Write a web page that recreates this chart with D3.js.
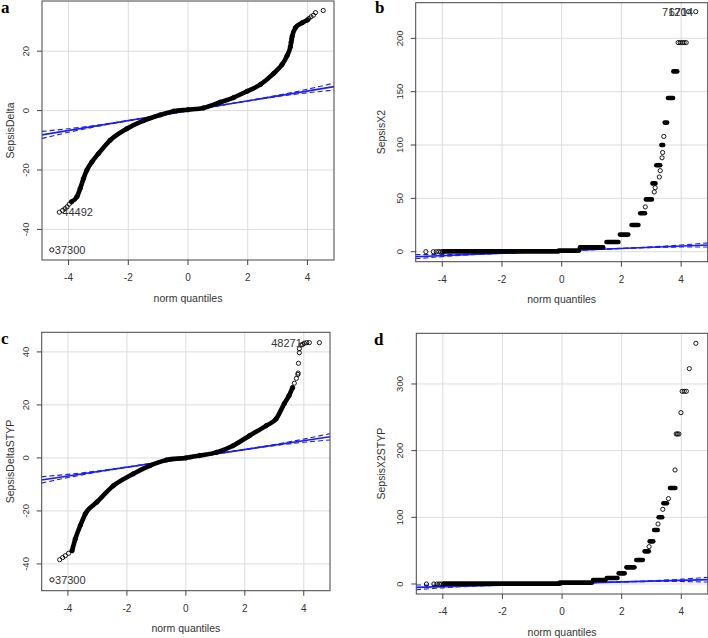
<!DOCTYPE html>
<html>
<head>
<meta charset="utf-8">
<script src="https://cdn.jsdelivr.net/npm/d3@7"></script>
<style>
  body { margin: 0; background: #fff; }
  svg { display: block; font-family: "Liberation Sans", Arial, sans-serif; }
</style>
</head>
<body>
<svg id="chart" width="708" height="638"></svg>
<script>
// ---- data ----
const panelLetters = ["a", "b", "c", "d"];
const yTitles = ["SepsisDelta", "SepsisX2", "SepsisDeltaSTYP", "SepsisX2STYP"];
const xTitle = "norm quantiles";
const xTicks = [-4, -2, 0, 2, 4];
const yTicksA = [-40, -20, 0, 20];
const yTicksB = [0, 50, 100, 150, 200];
const yTicksC = [-40, -20, 0, 20, 40];
const yTicksD = [0, 100, 200, 300];
const xDomain = [-4.89, 4.89];
const yDomainA = [-50.3, 36.9];
const yDomainB = [-9.4, 233.4];
const yDomainC = [-50.1, 47.4];
const yDomainD = [-15, 376];

// a: SepsisDelta (dense band of the Q-Q curve)
const bandQA = [-3.9, -3.72, -3.61, -3.5, -3.39, -3.22, -3.0, -2.61, -2.05, -1.49, -0.93, -0.48, 0, 0.52, 1.08, 1.53, 1.98, 2.43, 2.87, 3.15, 3.32, 3.43, 3.49, 3.6, 3.83, 4.0];
const bandVA = [-30.7, -29.0, -26.2, -22.9, -20.1, -17.3, -14.5, -10.0, -6.1, -3.35, -1.45, -0.2, 0.3, 0.9, 2.8, 4.4, 6.5, 8.8, 12.5, 15.5, 18.5, 21.5, 25.0, 27.9, 29.6, 30.5];
const pointsA = [[-4.56, -46.9], [-4.31, -34.2], [-4.2, -33.6], [-4.12, -33.0], [-4.05, -32.4], [-3.98, -31.5],
  [3.45, 23], [3.47, 24], [4.05, 31.0], [4.12, 31.6], [4.2, 32.1], [4.27, 33.0], [4.53, 33.7]];
const labelsA = [{ q: -4.31, v: -34.2, text: "44492", side: "right" }, { q: -4.56, v: -46.9, text: "37300", side: "right" }];
const refLineA = [[-4.9, -8.2], [4.9, 8.1]];

// b: SepsisX2 (plateaus: start q, end q, value)
const stepQ0B = [-3.95, -0.1, 0.61, 1.5, 1.95, 2.34, 2.63, 2.82, 3.04, 3.17, 3.34, 3.45, 3.56, 3.74];
const stepQ1B = [-0.1, 0.58, 1.39, 1.9, 2.23, 2.57, 2.79, 3.02, 3.14, 3.3, 3.4, 3.53, 3.73, 3.87];
const stepVB = [0.3, 1, 4, 9, 16, 25, 36, 49, 64, 81, 100, 121, 144, 169];
const pointsB = [[-4.55, 0], [-4.3, 0], [-4.2, 0], [-4.12, 0], [-4.05, 0], [-3.98, 0],
  [2.8, 42], [3.1, 56], [3.13, 60], [3.27, 70], [3.3, 76], [3.36, 88], [3.38, 93], [3.42, 108],
  [3.9, 196], [3.97, 196], [4.04, 196], [4.1, 196], [4.17, 196], [4.25, 225], [4.49, 225]];
const labelsB = [{ q: 4.25, v: 225, text: "7120", side: "left" }, { q: 4.47, v: 225, text: "6714", side: "left" }];
const refLineB = [[-4.9, -4.7], [4.9, 6.3]];

// c: SepsisDeltaSTYP
const bandQC = [-3.86, -3.75, -3.58, -3.41, -3.02, -2.46, -1.78, -1.22, -0.65, 0, 0.47, 1.04, 1.6, 2.16, 2.73, 3.06, 3.34, 3.5, 3.62];
const bandVC = [-35.0, -30.6, -25.5, -21.1, -16.7, -10.5, -6.0, -2.9, -0.75, 0, 0.9, 2.1, 4.6, 8.4, 12.2, 14.7, 20.5, 23.5, 26.5];
const pointsC = [[-4.54, -46.0], [-4.28, -38.4], [-4.18, -37.6], [-4.09, -36.9], [-3.98, -36.0],
  [3.68, 28.2], [3.75, 30], [3.8, 31.5], [3.81, 32], [3.82, 35.7], [3.85, 39.7], [3.85, 41.2], [3.91, 42.6],
  [3.96, 42.8], [4.02, 43.3], [4.1, 43.5], [4.19, 43.5], [4.53, 43.5]];
const labelsC = [{ q: -4.54, v: -46.0, text: "37300", side: "right" }, { q: 4.0, v: 43.3, text: "48271", side: "left" }];
const refLineC = [[-4.9, -8.3], [4.9, 8.0]];

// d: SepsisX2STYP
const stepQ0D = [-3.95, -0.07, 1.04, 1.5, 1.9, 2.16, 2.49, 2.77, 2.94, 3.09, 3.24, 3.4, 3.62];
const stepQ1D = [-0.07, 1.0, 1.46, 1.86, 2.1, 2.43, 2.71, 2.91, 3.06, 3.21, 3.36, 3.52, 3.8];
const stepVD = [0.5, 2, 6, 9, 16, 25, 36, 49, 64, 81, 100, 121, 144];
const pointsD = [[-4.55, 0], [-4.3, 0], [-4.2, 0], [-4.12, 0], [-4.05, 0], [-3.98, 0],
  [2.92, 56], [3.22, 90], [3.38, 112], [3.57, 128], [3.79, 171], [3.83, 225], [3.87, 225], [3.92, 225],
  [3.99, 257], [4.03, 289], [4.1, 289], [4.17, 289], [4.27, 323], [4.49, 361]];
const labelsD = [];
const refLineD = [[-4.9, -5.0], [4.9, 6.5]];

// confidence envelope half-width along q (same shape for every panel, scaled)
const envQ = [-4.9, -4, -3, -2, -1, 0, 1, 2, 3, 4, 4.9];
const envW = [1.2, 0.6, 0.2, 0.05, 0.02, 0.02, 0.02, 0.05, 0.2, 0.6, 1.2];
const envScale = [1, 1.6, 1, 3];

// ---- layout ----
const boxes = [
  { left: 42, top: 1, right: 334, bottom: 260, titleGap: 28 },
  { left: 415.7, top: 2.7, right: 707.7, bottom: 261.7, titleGap: 31 },
  { left: 41.7, top: 332.3, right: 330, bottom: 590.7, titleGap: 28 },
  { left: 416.3, top: 333.3, right: 707.8, bottom: 594, titleGap: 31 }
];
const letterPos = [[1, 13], [375, 13], [1, 344], [374, 345]];

const panels = [
  { yTicks: yTicksA, yDomain: yDomainA, band: d3.zip(bandQA, bandVA), steps: null, points: pointsA, labels: labelsA, ref: refLineA },
  { yTicks: yTicksB, yDomain: yDomainB, band: null, steps: d3.zip(stepQ0B, stepQ1B, stepVB), points: pointsB, labels: labelsB, ref: refLineB },
  { yTicks: yTicksC, yDomain: yDomainC, band: d3.zip(bandQC, bandVC), steps: null, points: pointsC, labels: labelsC, ref: refLineC },
  { yTicks: yTicksD, yDomain: yDomainD, band: null, steps: d3.zip(stepQ0D, stepQ1D, stepVD), points: pointsD, labels: labelsD, ref: refLineD }
];

const svg = d3.select("#chart");

panels.forEach((p, i) => {
  const box = boxes[i];
  const x = d3.scaleLinear().domain(xDomain).range([box.left, box.right]);
  const y = d3.scaleLinear().domain(p.yDomain).range([box.bottom, box.top]);
  const g = svg.append("g");

  const clipId = "clip" + i;
  svg.append("clipPath").attr("id", clipId)
    .append("rect")
    .attr("x", box.left).attr("y", box.top)
    .attr("width", box.right - box.left).attr("height", box.bottom - box.top);

  // grid
  g.selectAll(".gx").data(xTicks).join("line")
    .attr("x1", d => x(d)).attr("x2", d => x(d))
    .attr("y1", box.top).attr("y2", box.bottom)
    .attr("stroke", "#dcdcdc").attr("stroke-width", 1);
  g.selectAll(".gy").data(p.yTicks).join("line")
    .attr("y1", d => y(d)).attr("y2", d => y(d))
    .attr("x1", box.left).attr("x2", box.right)
    .attr("stroke", "#dcdcdc").attr("stroke-width", 1);

  const plot = g.append("g").attr("clip-path", `url(#${clipId})`);

  // reference line + dashed envelope
  const line = d3.line().x(d => x(d[0])).y(d => y(d[1]));
  const smooth = d3.line().x(d => x(d[0])).y(d => y(d[1])).curve(d3.curveMonotoneX);
  const [r0, r1] = p.ref;
  const slope = (r1[1] - r0[1]) / (r1[0] - r0[0]);
  const refAt = q => r0[1] + slope * (q - r0[0]);
  plot.append("path").attr("d", line(p.ref))
    .attr("fill", "none").attr("stroke", "#1a1aff").attr("stroke-width", 1.6);
  [-1, 1].forEach(s => {
    const env = envQ.map((q, k) => [q, refAt(q) + s * envW[k] * envScale[i]]);
    plot.append("path").attr("d", smooth(env))
      .attr("fill", "none").attr("stroke", "#1a1aff").attr("stroke-width", 1.1)
      .attr("stroke-dasharray", "5,3");
  });

  // dense part of the Q-Q points
  if (p.band) {
    plot.append("path").attr("d", smooth(p.band))
      .attr("fill", "none").attr("stroke", "#000").attr("stroke-width", 4.6)
      .attr("stroke-linecap", "round").attr("stroke-linejoin", "round");
    plot.selectAll(".bp").data(p.band).join("circle")
      .attr("cx", d => x(d[0])).attr("cy", d => y(d[1])).attr("r", 2.2)
      .attr("fill", "none").attr("stroke", "#000").attr("stroke-width", 0.9);
  }
  if (p.steps) {
    plot.selectAll(".st").data(p.steps).join("line")
      .attr("x1", d => x(d[0])).attr("x2", d => x(d[1]))
      .attr("y1", d => y(d[2])).attr("y2", d => y(d[2]))
      .attr("stroke", "#000").attr("stroke-width", 4.6)
      .attr("stroke-linecap", "round");
  }

  // sparse points
  plot.selectAll(".pt").data(p.points).join("circle")
    .attr("cx", d => x(d[0])).attr("cy", d => y(d[1])).attr("r", 2.1)
    .attr("fill", "none").attr("stroke", "#000").attr("stroke-width", 0.9);

  // point ids
  g.selectAll(".lb").data(p.labels).join("text")
    .attr("x", d => d.side === "right" ? x(d.q) + 3 : x(d.q) - 2)
    .attr("y", d => y(d.v) + 4)
    .attr("text-anchor", d => d.side === "right" ? "start" : "end")
    .attr("font-size", 11).attr("fill", "#333")
    .text(d => d.text);

  // box
  g.append("rect")
    .attr("x", box.left).attr("y", box.top)
    .attr("width", box.right - box.left).attr("height", box.bottom - box.top)
    .attr("fill", "none").attr("stroke", "#444").attr("stroke-width", 1);

  // x axis
  g.selectAll(".xt").data(xTicks).join("line")
    .attr("x1", d => x(d)).attr("x2", d => x(d))
    .attr("y1", box.bottom).attr("y2", box.bottom + 5)
    .attr("stroke", "#444");
  g.selectAll(".xl").data(xTicks).join("text")
    .attr("x", d => x(d)).attr("y", box.bottom + 21)
    .attr("text-anchor", "middle").attr("font-size", 10).attr("fill", "#333")
    .text(d => d);

  // y axis (rotated labels, R style)
  g.selectAll(".yt").data(p.yTicks).join("line")
    .attr("x1", box.left - 5).attr("x2", box.left)
    .attr("y1", d => y(d)).attr("y2", d => y(d))
    .attr("stroke", "#444");
  g.selectAll(".yl").data(p.yTicks).join("text")
    .attr("transform", d => `translate(${box.left - 13},${y(d)}) rotate(-90)`)
    .attr("text-anchor", "middle").attr("font-size", 9.5).attr("fill", "#333")
    .text(d => d);

  // titles
  g.append("text")
    .attr("x", (box.left + box.right) / 2).attr("y", box.bottom + 41.5)
    .attr("text-anchor", "middle").attr("font-size", 10.5).attr("fill", "#333")
    .text(xTitle);
  g.append("text")
    .attr("transform", `translate(${box.left - box.titleGap},${(box.top + box.bottom) / 2}) rotate(-90)`)
    .attr("text-anchor", "middle").attr("font-size", 10.5).attr("fill", "#333")
    .text(yTitles[i]);

  // panel letter
  svg.append("text")
    .attr("x", letterPos[i][0]).attr("y", letterPos[i][1])
    .attr("font-family", "'Liberation Serif', 'DejaVu Serif', serif")
    .attr("font-weight", "bold").attr("font-size", 17)
    .text(panelLetters[i]);
});
</script>
</body>
</html>
